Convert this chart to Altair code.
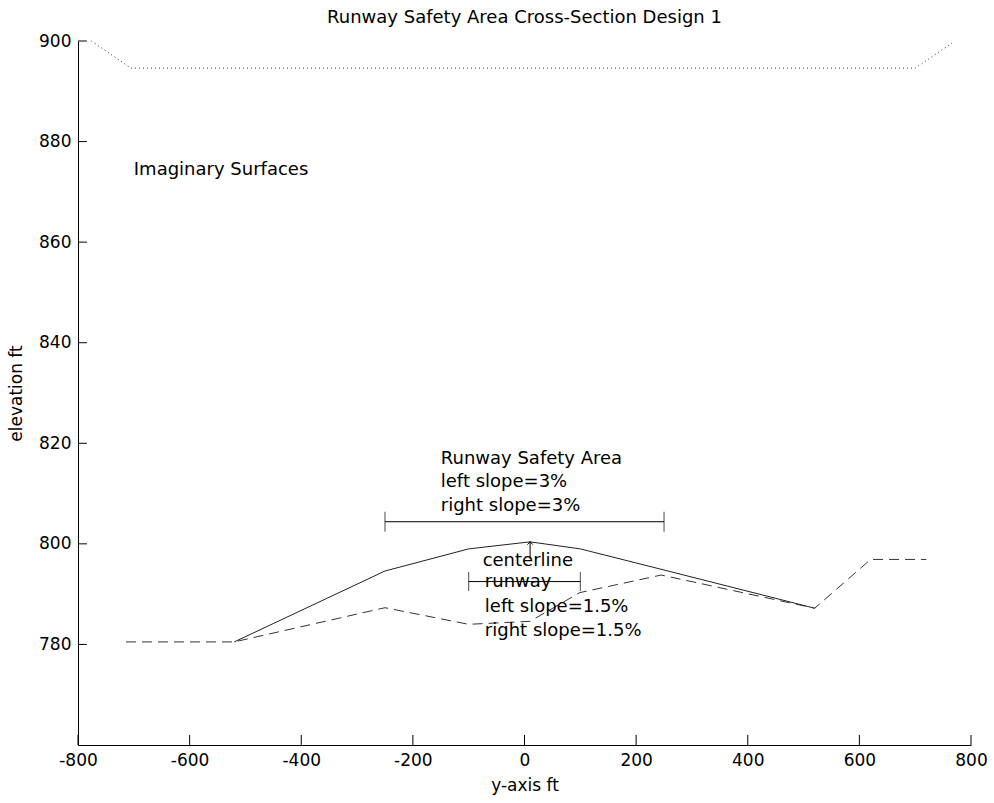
import altair as alt
import pandas as pd

FONT = "DejaVu Sans"

# Design (proposed) cross-section - solid
design_x = [-520, -250, -100, 10, 100, 250, 520]
design_y = [780.5, 794.6, 799.0, 800.4, 799.0, 794.8, 787.2]

# Existing ground - dashed
ground_x = [-714, -520, -250, -100, 10, 99, 245, 520, 620, 720]
ground_y = [780.5, 780.5, 787.3, 784.0, 784.6, 790.3, 793.8, 787.2, 796.9, 796.9]

# Imaginary surfaces - dotted
surf_x = [-776, -705, 700, 766]
surf_y = [900.0, 894.6, 894.6, 899.6]

# Dimension bars
bar_names = ["Runway Safety Area", "runway"]
bar_x1 = [-250, -100]
bar_x2 = [250, 100]
bar_y = [804.4, 792.5]

# Centerline arrow
arrow_x = [10]
arrow_y0 = [797.0]
arrow_y1 = [800.4]

# Annotation texts
ann_text = ["Imaginary Surfaces", "Runway Safety Area", "left slope=3%", "right slope=3%",
            "centerline", "runway", "left slope=1.5%", "right slope=1.5%"]
ann_x = [-700, -150, -150, -150, -75, -71, -71, -71]
ann_y = [874.4, 816.9, 812.3, 807.6, 796.5, 792.4, 787.5, 782.6]

# Axis ticks (inward tick marks, MATLAB style)
x_ticks = [-800, -600, -400, -200, 0, 200, 400, 600, 800]
y_ticks = [780, 800, 820, 840, 860, 880, 900]
x_tick_base, x_tick_top = 760, 762
y_tick_base, y_tick_end = -800, -784

xscale = alt.Scale(domain=[-800, 800], nice=False, zero=False)
yscale = alt.Scale(domain=[760, 900], nice=False, zero=False)

xaxis = alt.Axis(values=x_ticks, title="y-axis ft", ticks=False, grid=False,
                 labelExpr="'' + datum.value", labelPadding=7, titlePadding=9,
                 labelFlush=False, labelOverlap=False,
                 domainColor="black", labelColor="black", titleColor="black",
                 labelFont=FONT, titleFont=FONT, labelFontSize=17, titleFontSize=17,
                 titleFontWeight="normal")
yaxis = alt.Axis(values=y_ticks, title="elevation ft", ticks=False, grid=False,
                 labelExpr="'' + datum.value", labelPadding=7, titlePadding=13,
                 labelFlush=False, labelOverlap=False,
                 domainColor="black", labelColor="black", titleColor="black",
                 labelFont=FONT, titleFont=FONT, labelFontSize=17, titleFontSize=17,
                 titleFontWeight="normal")

design_df = pd.DataFrame({"x": design_x, "y": design_y})
ground_df = pd.DataFrame({"x": ground_x, "y": ground_y})
surf_df = pd.DataFrame({"x": surf_x, "y": surf_y})
bar_df = pd.DataFrame({"name": bar_names, "x1": bar_x1, "x2": bar_x2, "y": bar_y})
bar_ends = pd.DataFrame({"x": bar_x1 + bar_x2, "y": bar_y + bar_y,
                         "size": [20, 19, 20, 19]})
arrow_df = pd.DataFrame({"x": arrow_x, "y0": arrow_y0, "y1": arrow_y1})
ann_df = pd.DataFrame({"text": ann_text, "x": ann_x, "y": ann_y})
xt_df = pd.DataFrame({"x": x_ticks, "y0": x_tick_base, "y1": x_tick_top})
yt_df = pd.DataFrame({"y": y_ticks, "x0": y_tick_base, "x1": y_tick_end})

base_line = alt.Chart(design_df).mark_line(color="#222222", strokeWidth=1).encode(
    x=alt.X("x:Q", scale=xscale, axis=xaxis),
    y=alt.Y("y:Q", scale=yscale, axis=yaxis),
    order=alt.Order("x:Q"),
)

ground_line = alt.Chart(ground_df).mark_line(color="#333333", strokeWidth=1,
                                             strokeDash=[10, 6]).encode(
    x=alt.X("x:Q", scale=xscale),
    y=alt.Y("y:Q", scale=yscale),
    order=alt.Order("x:Q"),
)

surf_line = alt.Chart(surf_df).mark_line(color="#333333", strokeWidth=1,
                                         strokeDash=[1, 3]).encode(
    x=alt.X("x:Q", scale=xscale),
    y=alt.Y("y:Q", scale=yscale),
    order=alt.Order("x:Q"),
)

bars = alt.Chart(bar_df).mark_rule(color="black", strokeWidth=1).encode(
    x=alt.X("x1:Q", scale=xscale),
    x2="x2:Q",
    y=alt.Y("y:Q", scale=yscale),
)

bar_caps = alt.Chart(bar_ends).mark_tick(color="black", orient="vertical",
                                         thickness=1).encode(
    x=alt.X("x:Q", scale=xscale),
    y=alt.Y("y:Q", scale=yscale),
    size=alt.Size("size:Q", scale=None, legend=None),
)

arrow_stem = alt.Chart(arrow_df).mark_rule(color="black", strokeWidth=1).encode(
    x=alt.X("x:Q", scale=xscale),
    y=alt.Y("y0:Q", scale=yscale),
    y2="y1:Q",
)

arrow_head = alt.Chart(arrow_df).mark_point(
    shape="M -1 1 L 0 0 L 1 1", filled=False, color="black", size=30, strokeWidth=1,
    opacity=1).encode(
    x=alt.X("x:Q", scale=xscale),
    y=alt.Y("y1:Q", scale=yscale),
)

texts = alt.Chart(ann_df).mark_text(align="left", baseline="middle", font=FONT,
                                    fontSize=18, color="black").encode(
    x=alt.X("x:Q", scale=xscale),
    y=alt.Y("y:Q", scale=yscale),
    text="text:N",
)

x_tick_marks = alt.Chart(xt_df).mark_rule(color="black", strokeWidth=1).encode(
    x=alt.X("x:Q", scale=xscale),
    y=alt.Y("y0:Q", scale=yscale),
    y2="y1:Q",
)

y_tick_marks = alt.Chart(yt_df).mark_rule(color="black", strokeWidth=1).encode(
    y=alt.Y("y:Q", scale=yscale),
    x=alt.X("x0:Q", scale=xscale),
    x2="x1:Q",
)

chart = alt.layer(
    base_line, ground_line, surf_line, bars, bar_caps, arrow_stem, arrow_head,
    texts, x_tick_marks, y_tick_marks,
).properties(
    width=893,
    height=704,
    title=alt.Title("Runway Safety Area Cross-Section Design 1", font=FONT, fontSize=18,
                    fontWeight="normal", color="black", anchor="middle", offset=5),
    autosize=alt.AutoSizeParams(type="none"),
    padding={"left": 78, "top": 41, "right": 23, "bottom": 58},
    background="white",
).configure_view(stroke=None)

chart.save("out.html", embed_options={"renderer": "svg", "actions": False})
